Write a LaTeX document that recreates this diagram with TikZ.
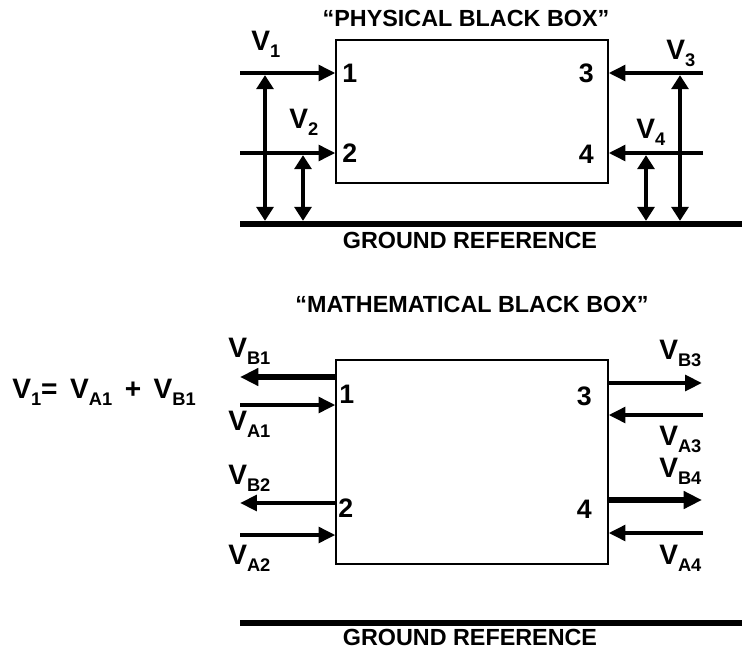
\documentclass[tikz,border=0pt]{standalone}
\usepackage{fontspec}
\setsansfont{Liberation Sans}
\usetikzlibrary{arrows.meta, positioning}

\newcommand{\Vlab}[1]{V\raisebox{-5pt}{\fontsize{13}{13}\selectfont #1}}

\begin{document}
\begin{tikzpicture}[
  x=0.025cm, y=-0.025cm,
  lbl/.style  = {font=\sffamily\bfseries\fontsize{20}{22}\selectfont, inner sep=0pt},
  pin/.style  = {font=\sffamily\bfseries\fontsize{19}{21}\selectfont, inner sep=0pt},
  ttl/.style  = {font=\sffamily\bfseries\fontsize{16.6}{18}\selectfont, inner sep=0pt},
  bbox/.style = {draw, line width=0.8pt, minimum width=6.8cm, inner sep=0pt},
  sig/.style  = {line width=3.4pt, -{Triangle[length=12pt,width=11pt]}},
  sigw/.style = {line width=4.6pt, -{Triangle[length=13pt,width=12pt]}},
  dbl/.style  = {line width=3.4pt, {Triangle[length=10pt,width=12pt]}-{Triangle[length=10pt,width=12pt]},
                 shorten <=1.5pt, shorten >=2.2pt},
  gnd/.style  = {line width=4.6pt}
]
  \useasboundingbox (0,0) rectangle (742,651);

  % physical black box
  \node[bbox, minimum height=3.575cm] (pbox) at (472,111.5) {};
  \node[ttl, anchor=base] (ptitle) at (466,26) {“PHYSICAL BLACK BOX”};

  \coordinate (in1) at (240,73);
  \coordinate (in2) at (240,153);
  \coordinate (in3) at (703,73);
  \coordinate (in4) at (703,153);
  \coordinate (g1w) at (240,224);
  \coordinate (g1e) at (742,224);

  \draw[gnd] (g1w) -- (g1e);
  \draw[sig] (in1) -- (in1 -| pbox.west);
  \draw[sig] (in2) -- (in2 -| pbox.west);
  \draw[sig] (in3) -- (in3 -| pbox.east);
  \draw[sig] (in4) -- (in4 -| pbox.east);

  \coordinate (u1) at (265,73);
  \coordinate (u2) at (303,153);
  \coordinate (u3) at (680,73);
  \coordinate (u4) at (646,153);
  \draw[dbl] (u1) -- (u1 |- g1w);
  \draw[dbl] (u2) -- (u2 |- g1w);
  \draw[dbl] (u3) -- (u3 |- g1w);
  \draw[dbl] (u4) -- (u4 |- g1w);

  \node[lbl, anchor=base west] (lv1) at (251,50)  {\Vlab{1}};
  \node[lbl, anchor=base west] (lv2) at (289,128) {\Vlab{2}};
  \node[lbl, anchor=base west] (lv3) at (666,59)  {\Vlab{3}};
  \node[lbl, anchor=base west] (lv4) at (636,138) {\Vlab{4}};

  \node[pin, anchor=base west] (p1) at (342,82)  {1};
  \node[pin, anchor=base west] (p2) at (342,162) {2};
  \node[pin, anchor=base east] (p3) at (594,82)  {3};
  \node[pin, anchor=base east] (p4) at (594,163) {4};

  \node[ttl, anchor=base] (gtxt1) at (470,248) {GROUND REFERENCE};

  % mathematical black box
  \node[bbox, minimum height=5.1cm] (mbox) at (472,462) {};
  \node[ttl, anchor=base] (mtitle) at (472,312) {“MATHEMATICAL BLACK BOX”};

  \coordinate (ob1) at (240,377);
  \coordinate (ia1) at (240,405);
  \coordinate (ob2) at (240,503);
  \coordinate (ia2) at (240,535);
  \coordinate (ob3) at (702,383);
  \coordinate (ia3) at (703,415);
  \coordinate (ob4) at (702,500);
  \coordinate (ia4) at (703,533);
  \coordinate (g2w) at (240,623);
  \coordinate (g2e) at (742,623);

  \draw[sigw] (ob1 -| mbox.west) -- (ob1);
  \draw[sig]  (ia1) -- (ia1 -| mbox.west);
  \draw[sig]  (ob2 -| mbox.west) -- (ob2);
  \draw[sig]  (ia2) -- (ia2 -| mbox.west);
  \draw[sig]  (ob3 -| mbox.east) -- (ob3);
  \draw[sig]  (ia3) -- (ia3 -| mbox.east);
  \draw[sigw] (ob4 -| mbox.east) -- (ob4);
  \draw[sig]  (ia4) -- (ia4 -| mbox.east);
  \draw[gnd] (g2w) -- (g2e);

  \node[lbl, anchor=base west] (lb1) at (228,357) {\Vlab{B1}};
  \node[lbl, anchor=base west] (la1) at (228,430) {\Vlab{A1}};
  \node[lbl, anchor=base west] (lb2) at (228,484) {\Vlab{B2}};
  \node[lbl, anchor=base west] (la2) at (228,564) {\Vlab{A2}};
  \node[lbl, anchor=base west] (lb3) at (659,359) {\Vlab{B3}};
  \node[lbl, anchor=base west] (la3) at (659,445) {\Vlab{A3}};
  \node[lbl, anchor=base west] (lb4) at (659,477) {\Vlab{B4}};
  \node[lbl, anchor=base west] (la4) at (659,564) {\Vlab{A4}};

  \node[pin, anchor=base west] (q1) at (339,403) {1};
  \node[pin, anchor=base west] (q2) at (338,517) {2};
  \node[pin, anchor=base east] (q3) at (592,405) {3};
  \node[pin, anchor=base east] (q4) at (592,518) {4};

  \node[lbl, anchor=base west] (eqn) at (12,398)
      {\Vlab{1}= \,\Vlab{A1} \,+\, \Vlab{B1}};

  \node[ttl, anchor=base] (gtxt2) at (470,645) {GROUND REFERENCE};
\end{tikzpicture}
\end{document}
